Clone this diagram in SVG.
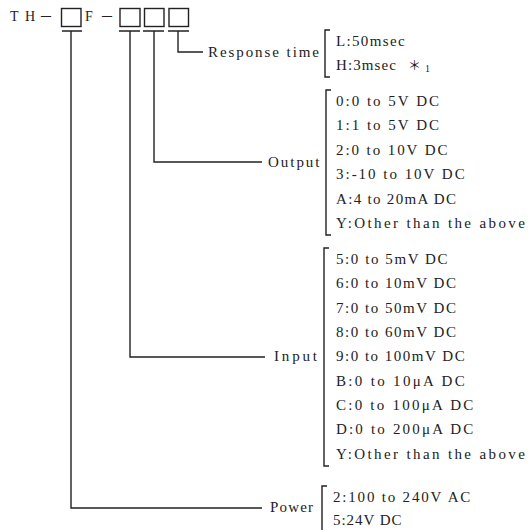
<svg xmlns="http://www.w3.org/2000/svg" width="528" height="530" viewBox="0 0 528 530">
<style>
.t{font-family:"Liberation Serif","DejaVu Serif",serif;font-size:15px;fill:#222}
.h{font-family:"Liberation Serif","Noto Sans CJK JP",serif;font-size:14px;fill:#222}
.ln{fill:none;stroke:#222;stroke-width:1.4}
.box{fill:#fff;stroke:#222;stroke-width:1.4}
</style>
<rect width="528" height="530" fill="#fff"/>
<g id="code">
<text class="h" x="10" y="21">T</text>
<text class="h" x="25" y="21">H</text>
<text class="h" x="39" y="21" style="font-family:'Noto Sans CJK JP',sans-serif">－</text>
<rect class="box" x="61.5" y="8.5" width="19.5" height="18"/>
<text class="h" x="85" y="21">F</text>
<text class="h" x="100" y="21" style="font-family:'Noto Sans CJK JP',sans-serif">－</text>
<rect class="box" x="120" y="8.5" width="20" height="18"/>
<rect class="box" x="144.5" y="8.5" width="19.5" height="18"/>
<rect class="box" x="169" y="8.5" width="19.5" height="18"/>
</g>
<g id="connectors">
<path class="ln" d="M62 31H82M119 31H140M143 31H164M168 31H189"/>
<path class="ln" d="M71 31V508H262"/>
<path class="ln" d="M130 31V357H265"/>
<path class="ln" d="M154 31V162H262"/>
<path class="ln" d="M178 31V52H203"/>
</g>
<g id="response">
<text class="t" x="208" y="57" textLength="111" lengthAdjust="spacing">Response time</text>
<path class="ln" d="M330 30H325V77H330"/>
<text class="t" x="336" y="46" textLength="68.6" lengthAdjust="spacing">L:50msec</text>
<text class="t" x="336" y="70" textLength="60" lengthAdjust="spacing">H:3msec</text>
<text class="t" x="408" y="70" style="font-family:'Noto Sans CJK JP',sans-serif;font-size:13px">＊</text>
<text class="t" x="425" y="72" style="font-size:10px">1</text>
</g>
<g id="output">
<text class="t" x="268" y="167" textLength="51.5" lengthAdjust="spacing">Output</text>
<path class="ln" d="M331 90H326V235H331"/>
<text class="t" x="336" y="106" textLength="103" lengthAdjust="spacing">0:0 to 5V DC</text>
<text class="t" x="336" y="130.4" textLength="103" lengthAdjust="spacing">1:1 to 5V DC</text>
<text class="t" x="336" y="154.8" textLength="111.5" lengthAdjust="spacing">2:0 to 10V DC</text>
<text class="t" x="336" y="179.2" textLength="128.7" lengthAdjust="spacing">3:-10 to 10V DC</text>
<text class="t" x="336" y="203.6" textLength="120" lengthAdjust="spacing">A:4 to 20mA DC</text>
<text class="t" x="336" y="228" textLength="188.8" lengthAdjust="spacing">Y:Other than the above</text>
</g>
<g id="input">
<text class="t" x="274" y="361" textLength="43" lengthAdjust="spacing">Input</text>
<path class="ln" d="M329 248H324V466H329"/>
<text class="t" x="336" y="264" textLength="111.5" lengthAdjust="spacing">5:0 to 5mV DC</text>
<text class="t" x="336" y="288.3" textLength="120" lengthAdjust="spacing">6:0 to 10mV DC</text>
<text class="t" x="336" y="312.6" textLength="120" lengthAdjust="spacing">7:0 to 50mV DC</text>
<text class="t" x="336" y="336.9" textLength="120" lengthAdjust="spacing">8:0 to 60mV DC</text>
<text class="t" x="336" y="361.2" textLength="128.7" lengthAdjust="spacing">9:0 to 100mV DC</text>
<text class="t" x="336" y="385.5" textLength="128.7" lengthAdjust="spacing">B:0 to 10μA DC</text>
<text class="t" x="336" y="409.8" textLength="137.3" lengthAdjust="spacing">C:0 to 100μA DC</text>
<text class="t" x="336" y="434.1" textLength="137.3" lengthAdjust="spacing">D:0 to 200μA DC</text>
<text class="t" x="336" y="458.5" textLength="188.8" lengthAdjust="spacing">Y:Other than the above</text>
</g>
<g id="power">
<text class="t" x="270" y="512" textLength="43" lengthAdjust="spacing">Power</text>
<path class="ln" d="M327 486H322V531"/>
<text class="t" x="333" y="502" textLength="137.3" lengthAdjust="spacing">2:100 to 240V AC</text>
<text class="t" x="333" y="525" textLength="68.6" lengthAdjust="spacing">5:24V DC</text>
</g>
</svg>
